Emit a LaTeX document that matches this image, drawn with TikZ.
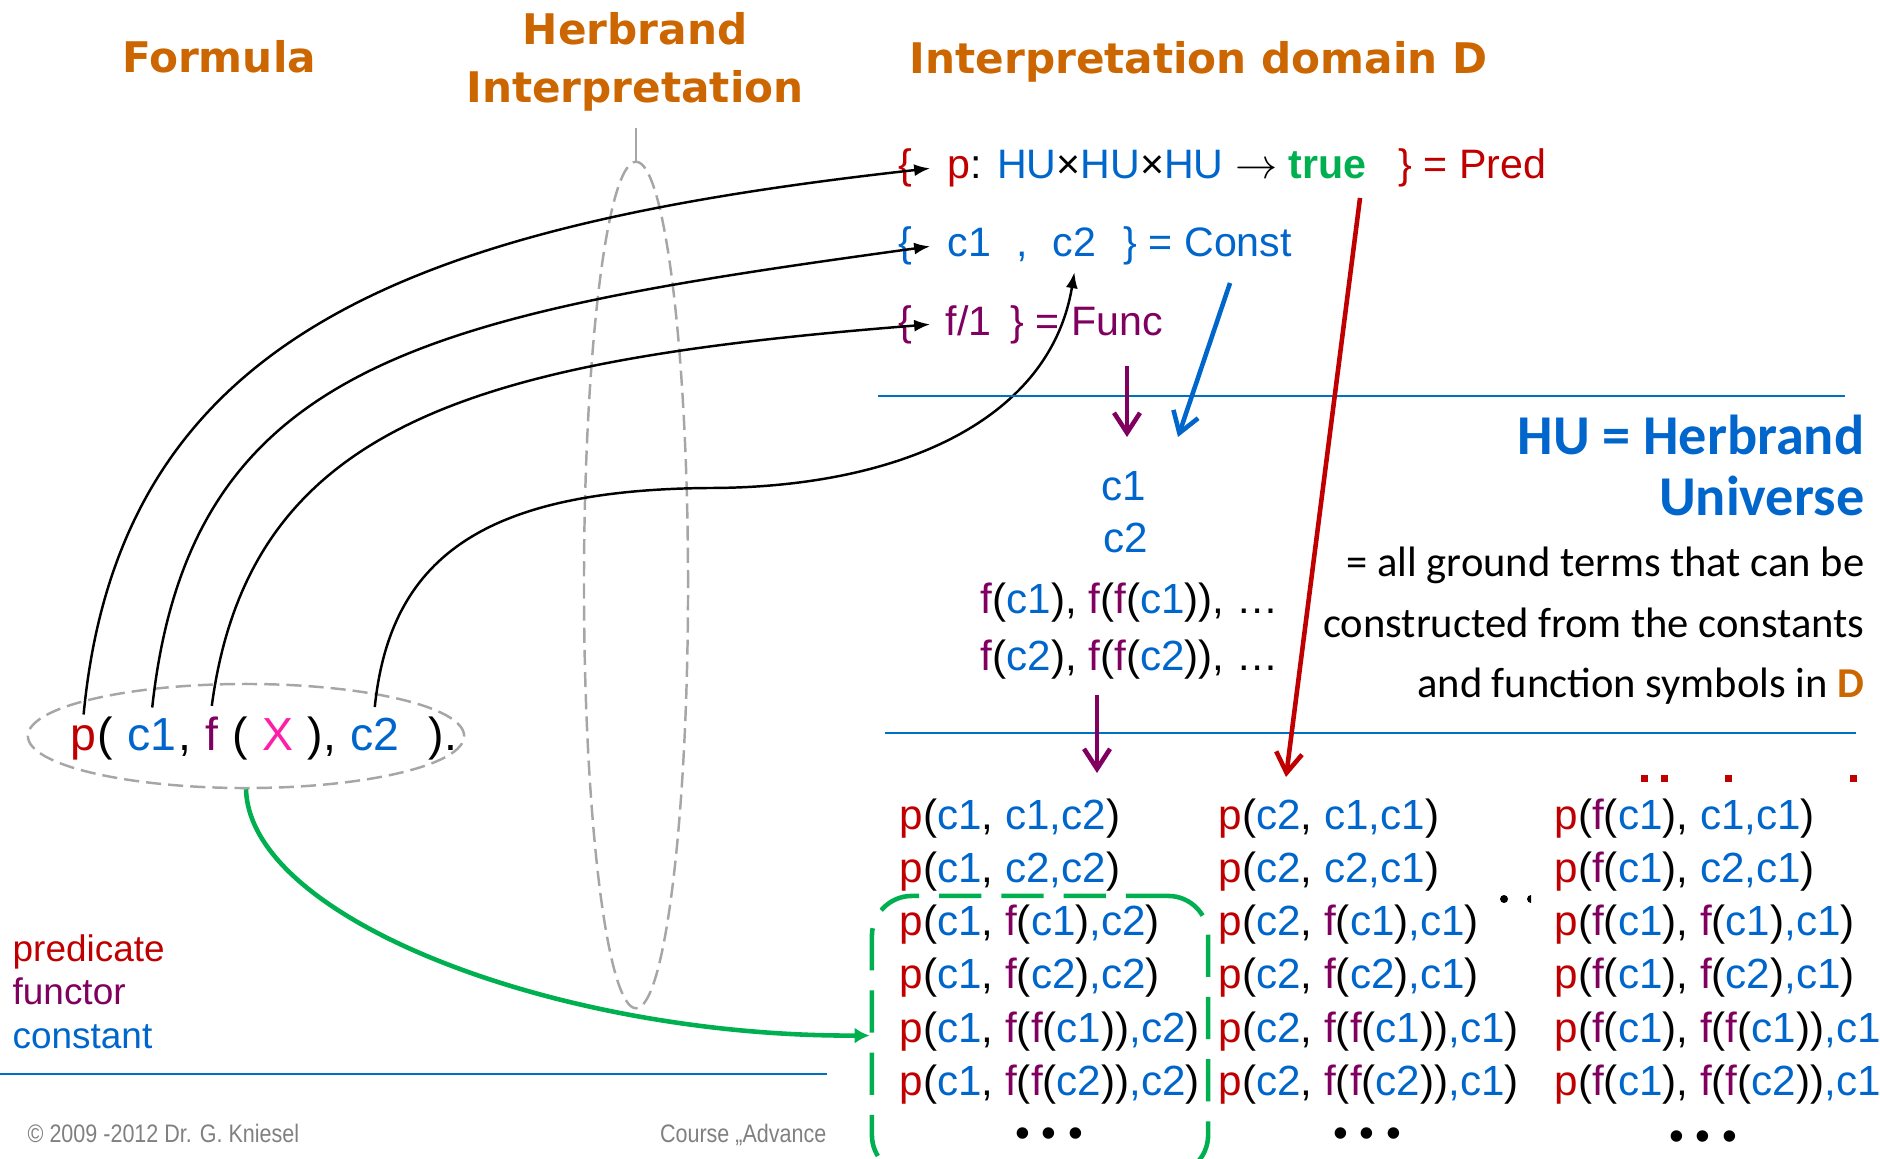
\documentclass[tikz,border=0pt]{standalone}
\usepackage{fontspec}
\setmainfont{Liberation Sans}
\newfontfamily\titlefont{DejaVu Sans}
\newfontfamily\calfont{Carlito}
\newfontfamily\footfont[FakeStretch=0.85]{Liberation Sans}
\usetikzlibrary{arrows.meta, shapes.geometric}

\definecolor{predred}{RGB}{192,0,0}
\definecolor{constblue}{RGB}{0,102,204}
\definecolor{funcpurple}{RGB}{128,0,96}
\definecolor{varpink}{RGB}{255,30,170}
\definecolor{truegreen}{RGB}{0,176,80}
\definecolor{titleorange}{RGB}{204,102,0}
\definecolor{hugray}{RGB}{166,166,166}
\definecolor{footgray}{RGB}{128,128,128}
\definecolor{ruleblue}{RGB}{0,112,192}

\newcommand{\predP}{\textcolor{predred}{p}}
\newcommand{\funF}{\textcolor{funcpurple}{f}}
\newcommand{\conC}[1]{\textcolor{constblue}{c#1}}

\begin{document}
\begin{tikzpicture}[x=0.01cm, y=-0.01cm,
  heading/.style={font=\titlefont\bfseries\fontsize{12}{14}\selectfont, text=titleorange, inner sep=0pt},
  settext/.style={font=\fontsize{11.7}{14}\selectfont, inner sep=0pt, anchor=base west},
  setbrace/.style={font=\fontsize{11.7}{14}\selectfont, inner ysep=0pt, inner xsep=5pt, anchor=base},
  formtext/.style={font=\fontsize{13.2}{16}\selectfont, inner xsep=0pt, inner ysep=2.8pt, anchor=base west},
  hutext/.style={font=\fontsize{12}{14}\selectfont, inner sep=0pt},
  term/.style={font=\fontsize{12}{14}\selectfont, inner sep=0pt, anchor=base west},
  deftext/.style={font=\calfont\fontsize{12.1}{14}\selectfont, inner sep=0pt, anchor=base east},
  legendtext/.style={font=\fontsize{10.5}{12}\selectfont, inner sep=0pt, anchor=base west},
  dashring/.style={draw=hugray, line width=0.7pt, dash pattern=on 4.3pt off 2pt, ellipse, inner sep=0pt},
  link/.style={-{Latex[length=0.16cm, width=0.12cm]}, line width=0.7pt},
  flow/.style={-{Straight Barb[length=0.2cm, width=0.26cm]}, line width=1.3pt},
  hrule/.style={ruleblue, line width=0.75pt},
]
\useasboundingbox (0,0) rectangle (1880,1158);

% column headings
\node[heading] (hformula) at (219,57) {Formula};
\node[heading] (hherb1) at (635,29) {Herbrand};
\node[heading] (hherb2) at (635,91) {Interpretation};
\node[heading, anchor=base west] (hdomain) at (909,74) {Interpretation domain D};

% the Herbrand interpretation ring
\node[dashring, minimum width=1.04cm, minimum height=8.46cm] (herbring) at (636,585) {};
\coordinate (herbtop) at (636,128);
\draw[hugray, line width=0.7pt] (herbtop) -- (herbring.north);

% the formula, one piece per symbol
\node[dashring, minimum width=4.36cm, minimum height=1.04cm] (formulabox) at (246,736) {};
\node[formtext] (fp) at (70,750) {\predP};
\node[formtext] (fpar1) at (fp.base east) {(\kern0.278em};
\node[formtext] (fc1) at (fpar1.base east) {\conC1};
\node[formtext] (fcomma) at (fc1.base east) {,\kern0.278em};
\node[formtext] (ff) at (fcomma.base east) {\funF};
\node[formtext] (fpar2) at (ff.base east) {\kern0.278em(\kern0.278em};
\node[formtext, text=varpink] (fx) at (fpar2.base east) {X};
\node[formtext] (fpar3) at (fx.base east) {\kern0.278em),\kern0.278em};
\node[formtext] (fc2) at (fpar3.base east) {\conC2};
\node[formtext] (fend) at (fc2.base east) {\kern0.6em).};

% domain D: predicates, constants, functions
\node[setbrace, text=predred] (predL) at (905,179) {\{};
\node[settext] (predbody) at (947,179) {\predP: \textcolor{constblue}{HU}×\textcolor{constblue}{HU}×\textcolor{constblue}{HU} $\to$ \textcolor{truegreen}{\bfseries true}};
\node[settext, text=predred] (predR) at (1398,179) {\} = Pred};
\node[setbrace, text=constblue] (constL) at (905,257) {\{};
\node[settext, text=constblue] (constC1) at (947,257) {c1};
\node[settext, text=constblue] (constComma) at (1016,257) {,};
\node[settext, text=constblue, inner ysep=4pt] (constC2) at (1052,257) {c2};
\node[settext, text=constblue] (constR) at (1123,257) {\} = Const};
\node[setbrace, text=funcpurple] (funcL) at (905,335) {\{};
\node[settext, text=funcpurple] (funcF) at (945,335) {f/1};
\node[settext, text=funcpurple] (funcR) at (1010,335) {\} = Func};

% symbols of the formula go to D
\draw[link] (fp.north) .. controls (120,330) and (420,225) .. (predL.east);
\draw[link] (fc1.north) .. controls (190,360) and (430,315) .. (constL.east);
\draw[link] (ff.north) .. controls (250,420) and (480,360) .. (funcL.east);
\draw[link] (fc2.north) .. controls (390,560) and (480,490) .. (708,488)
  .. controls (900,488) and (1050,420) .. (constC2.south);

% separators
\draw[hrule] (878,396) -- (1845,396);
\draw[hrule] (885,733) -- (1856,733);
\draw[hrule] (0,1074) -- (827,1074);

% Herbrand universe
\coordinate (funcout) at (1127,366);
\coordinate (huin1) at (1127,437);
\coordinate (constout) at (1230,283);
\coordinate (huin2) at (1178,437);
\draw[flow, funcpurple] (funcout) -- (huin1);
\draw[flow, constblue] (constout) -- (huin2);
\node[hutext, anchor=base, text=constblue] (huc1) at (1124,500) {c1};
\node[hutext, anchor=base, text=constblue] (huc2) at (1126,552) {c2};
\node[hutext, anchor=base west] (hufc1) at (980,613) {\funF(\conC1), \funF(\funF(\conC1)), …};
\node[hutext, anchor=base west] (hufc2) at (980,670) {\funF(\conC2), \funF(\funF(\conC2)), …};

\node[font=\calfont\bfseries\fontsize{16}{19}\selectfont, text=constblue, anchor=base east, inner sep=0pt] (hutitle) at (1865,454) {HU = Herbrand};
\node[font=\calfont\bfseries\fontsize{16}{19}\selectfont, text=constblue, anchor=base east, inner sep=0pt] (huname) at (1865,515) {Universe};
\node[deftext] (hudef1) at (1865,576) {= all ground terms that can be};
\node[deftext] (hudef2) at (1865,637) {constructed from the constants};
\node[deftext] (hudef3) at (1865,697) {and function symbols in \textcolor{titleorange}{\bfseries D}};

% ground atoms
\coordinate (huout) at (1097,695);
\coordinate (gridin1) at (1097,773);
\coordinate (predout) at (1360,198);
\coordinate (gridin2) at (1286,777);
\draw[flow, funcpurple] (huout) -- (gridin1);
\draw[flow, predred] (predout) -- (gridin2);
\foreach \targ [count=\i] in {\conC1, \conC2, \funF(\conC1), \funF(\conC2), \funF(\funF(\conC1)), \funF(\funF(\conC2))} {
  \node[term] (colA\i) at (899,{776+53.2*\i}) {\predP(\conC1, \targ\textcolor{constblue}{,c2})};
  \node[term] (colB\i) at (1218,{776+53.2*\i}) {\predP(\conC2, \targ\textcolor{constblue}{,c1})};
  \node[term] (colC\i) at (1554,{776+53.2*\i}) {\predP(\funF(\conC1), \targ\textcolor{constblue}{,c1})};
}
\node[term, anchor=base] (dotsA) at (1049,1147) {\textbullet\ \textbullet\ \textbullet};
\node[term, anchor=base] (dotsB) at (1367,1147) {\textbullet\ \textbullet\ \textbullet};
\node[term, anchor=base] (dotsC) at (1703,1150) {\textbullet\ \textbullet\ \textbullet};
\fill (1504,899) circle[radius=0.04cm];
\fill (1531,895) arc[start angle=90, end angle=270, radius=0.04cm] -- cycle;
\foreach \x in {1641,1661,1725,1850}
  \fill[predred] (\x,775) rectangle ++(7,7);

% formula -> its ground instances
\node[draw=truegreen, line width=1.3pt, dash pattern=on 12pt off 5.7pt, rounded corners=0.4cm,
  minimum width=3.36cm, minimum height=2.79cm, inner sep=0pt] (termbox) at (1040,1035.5) {};
\draw[-{Latex[length=0.15cm, width=0.16cm]}, truegreen, line width=1.3pt]
  (formulabox.south) .. controls (250,920) and (560,1037) .. (termbox.west);

% legend and footer
\node[legendtext, text=predred] (legpred) at (12,961) {predicate};
\node[legendtext, text=funcpurple] (legfunc) at (12,1004) {functor};
\node[legendtext, text=constblue] (legconst) at (12,1048) {constant};
\node[font=\footfont\fontsize{7.2}{9}\selectfont, text=footgray, inner sep=0pt, anchor=base west] (copyright) at (27,1142) {© 2009 -2012 Dr. G. Kniesel};
\node[font=\footfont\fontsize{7.2}{9}\selectfont, text=footgray, inner sep=0pt, anchor=base east] (course) at (827,1142) {Course „Advance};
\end{tikzpicture}
\end{document}
